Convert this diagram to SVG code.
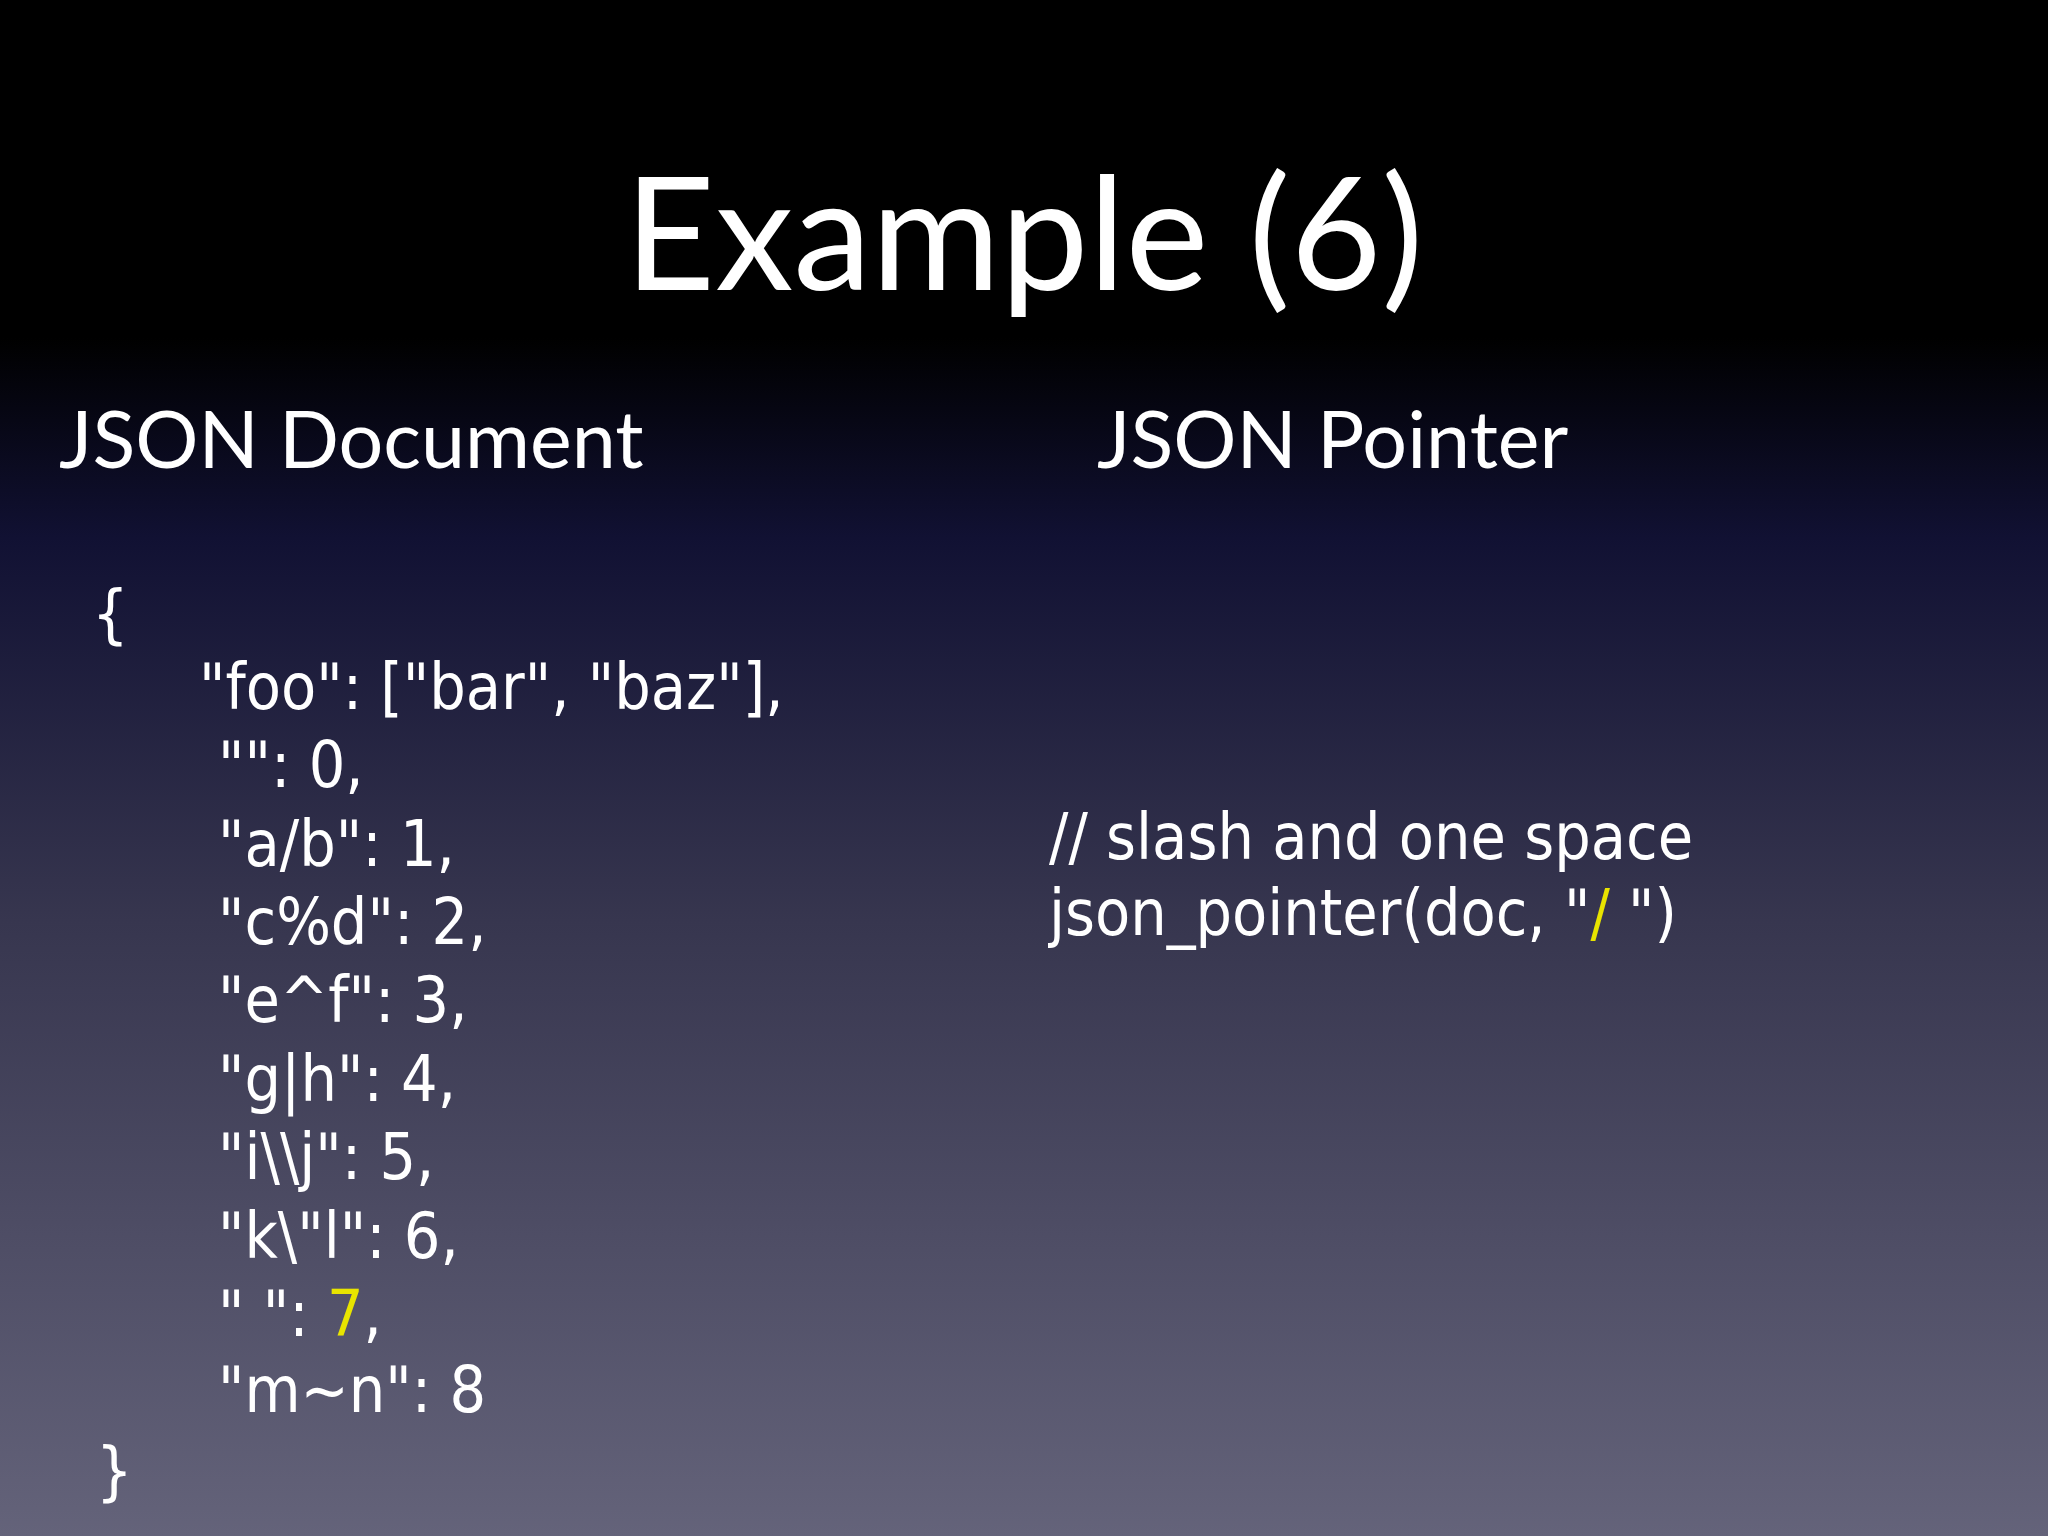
<svg xmlns="http://www.w3.org/2000/svg" width="2048" height="1536" viewBox="0 0 2048 1536">
<defs>
<linearGradient id="bg" x1="0" y1="0" x2="0" y2="1">
<stop offset="0" stop-color="#000000"/>
<stop offset="0.22" stop-color="#000000"/>
<stop offset="0.35" stop-color="#111133"/>
<stop offset="0.6" stop-color="#37364f"/>
<stop offset="1" stop-color="#64637a"/>
</linearGradient>
<style>
text{fill:#ffffff;font-family:"Lato","Open Sans",sans-serif}
.t{font-size:157px}
.h{font-size:79px}
.c{font-size:64px;font-family:"DejaVu Sans Condensed","Liberation Sans",sans-serif}
.y{fill:#e8e400}
</style>
</defs>
<rect width="2048" height="1536" fill="url(#bg)"/>
<text class="t" x="1024" y="290" text-anchor="middle">Example (6)</text>
<text class="h" x="59" y="468">JSON Document</text>
<text class="h" x="1097" y="468">JSON Pointer</text>
<g id="doc" class="c">
<text class="c" x="92" y="636">{</text>
<text class="c" x="199" y="709">"foo": ["bar", "baz"],</text>
<text class="c" x="218" y="787">"": 0,</text>
<text class="c" x="218" y="866">"a/b": 1,</text>
<text class="c" x="218" y="944">"c%d": 2,</text>
<text class="c" x="218" y="1022">"e^f": 3,</text>
<text class="c" x="218" y="1101">"g|h": 4,</text>
<text class="c" x="218" y="1179">"i\\j": 5,</text>
<text class="c" x="218" y="1258">"k\"l": 6,</text>
<text class="c" x="218" y="1336" xml:space="preserve">" ": <tspan class="y">7</tspan>,</text>
<text class="c" x="218" y="1412">"m~n": 8</text>
<text class="c" x="96" y="1493">}</text>
</g>
<g id="pointer">
<text class="c" x="1049" y="859">// slash and one space</text>
<text class="c" x="1049" y="935" xml:space="preserve">json_pointer(doc, "<tspan class="y">/</tspan> ")</text>
</g>
</svg>
